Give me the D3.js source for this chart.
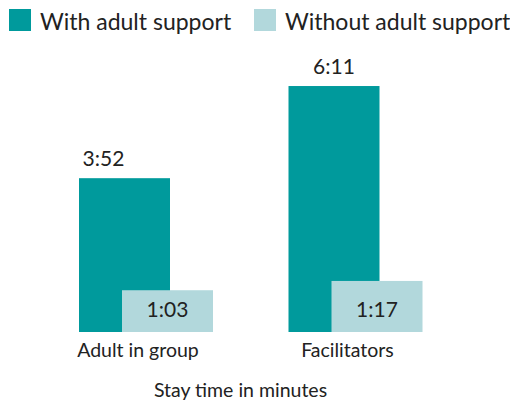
<!DOCTYPE html>
<html>
<head>
<meta charset="utf-8">
<script src="https://cdn.jsdelivr.net/npm/d3@7/dist/d3.min.js"></script>
<style>
  html, body { margin: 0; padding: 0; background: #fff; }
  svg text { font-family: Lato, "Open Sans", sans-serif; fill: #222; }
</style>
</head>
<body>
<svg id="chart" width="510" height="404"></svg>
<script>
const categories = ["Adult in group", "Facilitators"];
const seriesNames = ["With adult support", "Without adult support"];
const withSupport = [232, 371];     // seconds: 3:52, 6:11
const withoutSupport = [63, 77];    // seconds: 1:03, 1:17
const valueLabels = [["3:52", "6:11"], ["1:03", "1:17"]];
const axisTitle = "Stay time in minutes";
const colors = ["#009a9c", "#b2d8dc"];

const svg = d3.select("#chart");
const baseY = 332;
const y = d3.scaleLinear().domain([0, 400]).range([baseY, baseY - 0.663 * 400]);
const x = d3.scalePoint().domain(categories).range([146, 355.5]);
const offset = d3.scaleOrdinal().domain(seriesNames).range([-67, -24]);
const barW = 91;

const series = [withSupport, withoutSupport];
const data = [];
series.forEach((vals, s) => vals.forEach((v, i) => data.push({s, i, v, cat: categories[i], name: seriesNames[s], label: valueLabels[s][i]})));

// bars
svg.append("g").selectAll("rect").data(data).join("rect")
  .attr("x", d => x(d.cat) + offset(d.name))
  .attr("y", d => y(d.v))
  .attr("width", barW)
  .attr("height", d => y(0) - y(d.v))
  .attr("fill", d => colors[d.s]);

// value labels
svg.append("g").selectAll("text").data(data).join("text")
  .attr("x", d => x(d.cat) + offset(d.name) + barW / 2 + (d.s === 0 && d.i === 0 ? -21 : 0))
  .attr("y", d => d.s === 0 ? y(d.v) - 12 : y(0) - 15)
  .attr("text-anchor", "middle")
  .attr("font-size", 21)
  .text(d => d.label);

// category labels
svg.append("g").selectAll("text").data(categories).join("text")
  .attr("x", d => x(d) - 8)
  .attr("y", 357)
  .attr("text-anchor", "middle")
  .attr("font-size", 19.5)
  .text(d => d);

svg.append("text")
  .attr("x", 240.5)
  .attr("y", 397)
  .attr("text-anchor", "middle")
  .attr("font-size", 19.5)
  .text(axisTitle);

// legend
const legX = [9, 254];
const leg = svg.append("g").selectAll("g").data(seriesNames).join("g")
  .attr("transform", (d, i) => `translate(${legX[i]},9)`);
leg.append("rect").attr("width", 22).attr("height", 22).attr("fill", (d, i) => colors[i]);
leg.append("text").attr("x", 31).attr("y", 20).attr("font-size", 23).attr("dy", "0.05em").text(d => d);
</script>
</body>
</html>
